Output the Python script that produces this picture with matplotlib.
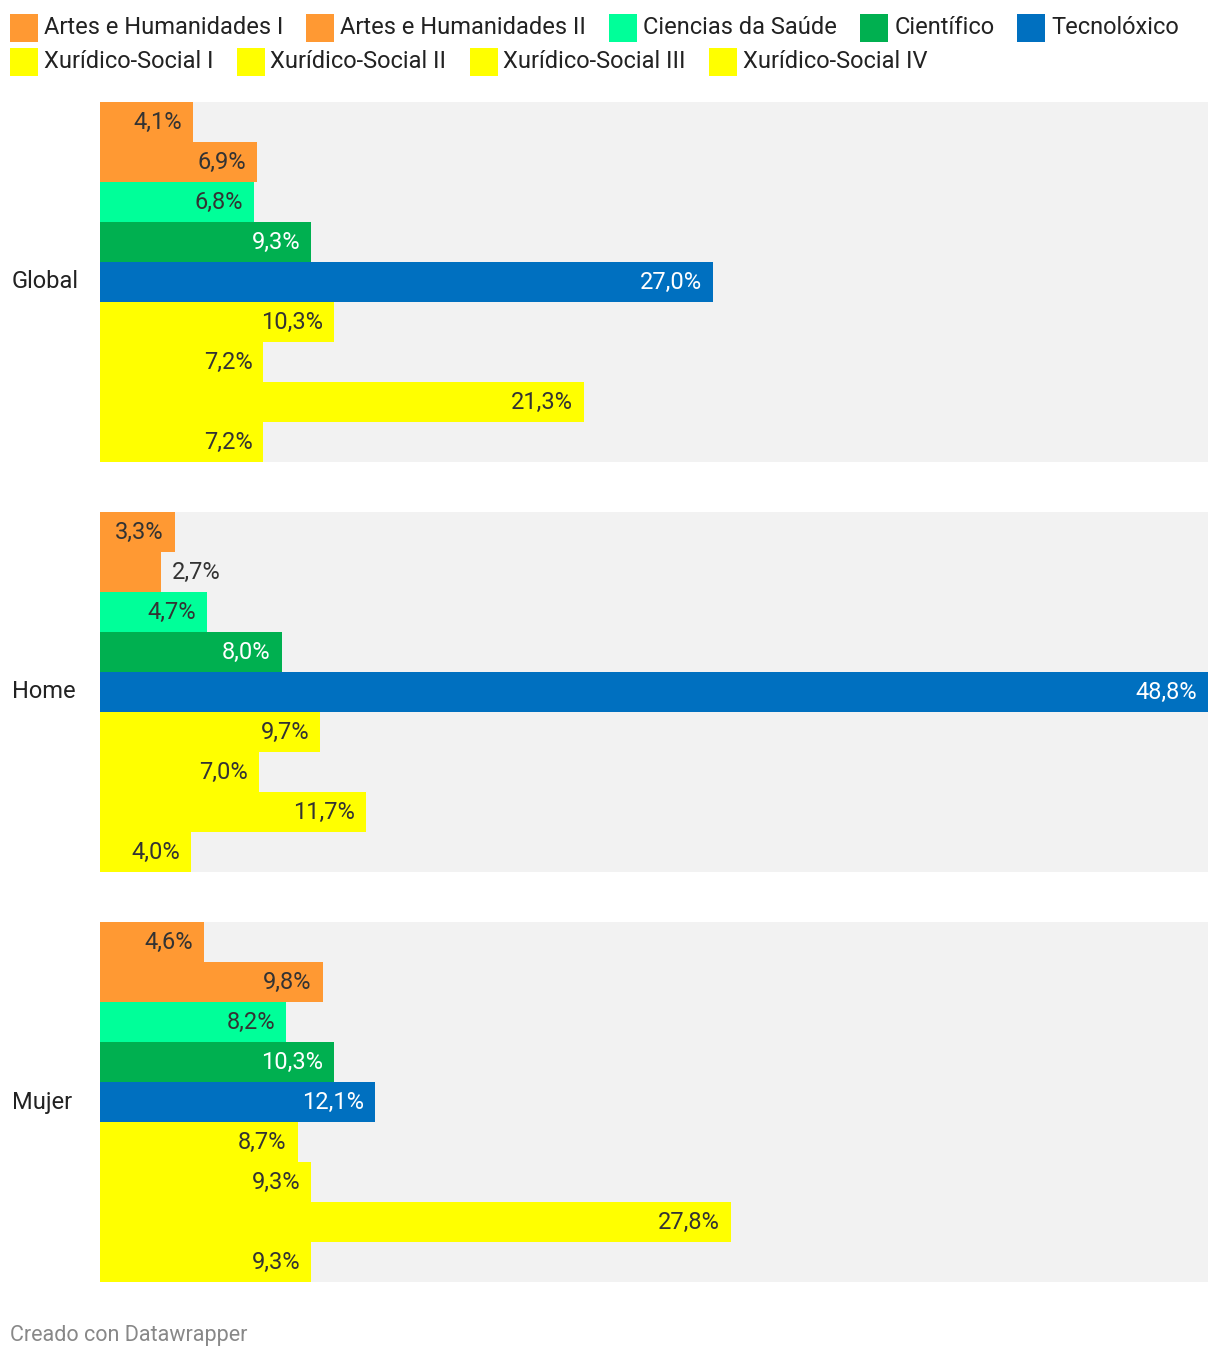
import matplotlib.pyplot as plt
from matplotlib.patches import Rectangle

plt.rcParams['font.family'] = ['Roboto', 'DejaVu Sans']

categories = ['Artes e Humanidades I', 'Artes e Humanidades II', 'Ciencias da Saúde',
              'Científico', 'Tecnolóxico', 'Xurídico-Social I', 'Xurídico-Social II',
              'Xurídico-Social III', 'Xurídico-Social IV']
colors = ['#ff9933', '#ff9933', '#00ff99', '#00b050', '#0070c0',
          '#ffff00', '#ffff00', '#ffff00', '#ffff00']
white_text = [False, False, False, True, True, False, False, False, False]

groups = ['Global', 'Home', 'Mujer']
global_vals = [4.1, 6.9, 6.8, 9.3, 27.0, 10.3, 7.2, 21.3, 7.2]
home_vals = [3.3, 2.7, 4.7, 8.0, 48.8, 9.7, 7.0, 11.7, 4.0]
mujer_vals = [4.6, 9.8, 8.2, 10.3, 12.1, 8.7, 9.3, 27.8, 9.3]
values = [global_vals, home_vals, mujer_vals]

W, H = 1220, 1360
fig = plt.figure(figsize=(W / 100, H / 100), dpi=100)
ax = fig.add_axes([100 / W, 78 / H, 1108 / W, 1180 / H])

n = len(categories)
step = n + 1.25
xmax = 48.8
pad = 11 / 1108 * xmax
fs = 17
dark = '#333333'

for g, (name, vals) in enumerate(zip(groups, values)):
    top = g * step
    ax.axhspan(top, top + n, color='#f2f2f2', lw=0, zorder=0)
    ax.barh([top + i + 0.5 for i in range(n)], vals, height=1.0,
            color=colors, lw=0, zorder=1)
    for i, v in enumerate(vals):
        lab = f'{v:.1f}'.replace('.', ',') + '%'
        y = top + i + 0.5
        if v < 3.0:
            ax.text(v + pad, y, lab, ha='left', va='center', fontsize=fs, color=dark, zorder=2)
        else:
            ax.text(v - pad, y, lab, ha='right', va='center', fontsize=fs,
                    color='white' if white_text[i] else dark, zorder=2)
    fig.text(12 / W, 1 - (102 + (top + n / 2) * 40) / H, name,
             ha='left', va='center', fontsize=fs, color='#222222')

ax.set_xlim(0, xmax)
ax.set_ylim(2 * step + n, 0)
ax.axis('off')

# legend, flowed left to right and wrapped
renderer = fig.canvas.get_renderer()
x, row_y = 10, 28
for cat, col in zip(categories, colors):
    t = fig.text(0, 0, cat, fontsize=fs, color='#222222', va='center', ha='left')
    tw = t.get_window_extent(renderer).width
    if x + 34 + tw > W - 8:
        x, row_y = 10, row_y + 34
    fig.patches.append(Rectangle((x / W, 1 - (row_y + 14) / H), 28 / W, 28 / H,
                                 transform=fig.transFigure, color=col, lw=0))
    t.set_position(((x + 34) / W, 1 - row_y / H))
    x += 34 + tw + 23

fig.text(10 / W, 1 - 1335 / H, 'Creado con Datawrapper', fontsize=15.5,
         color='#888888', ha='left', va='center')

fig.savefig('out.png', dpi=100)
